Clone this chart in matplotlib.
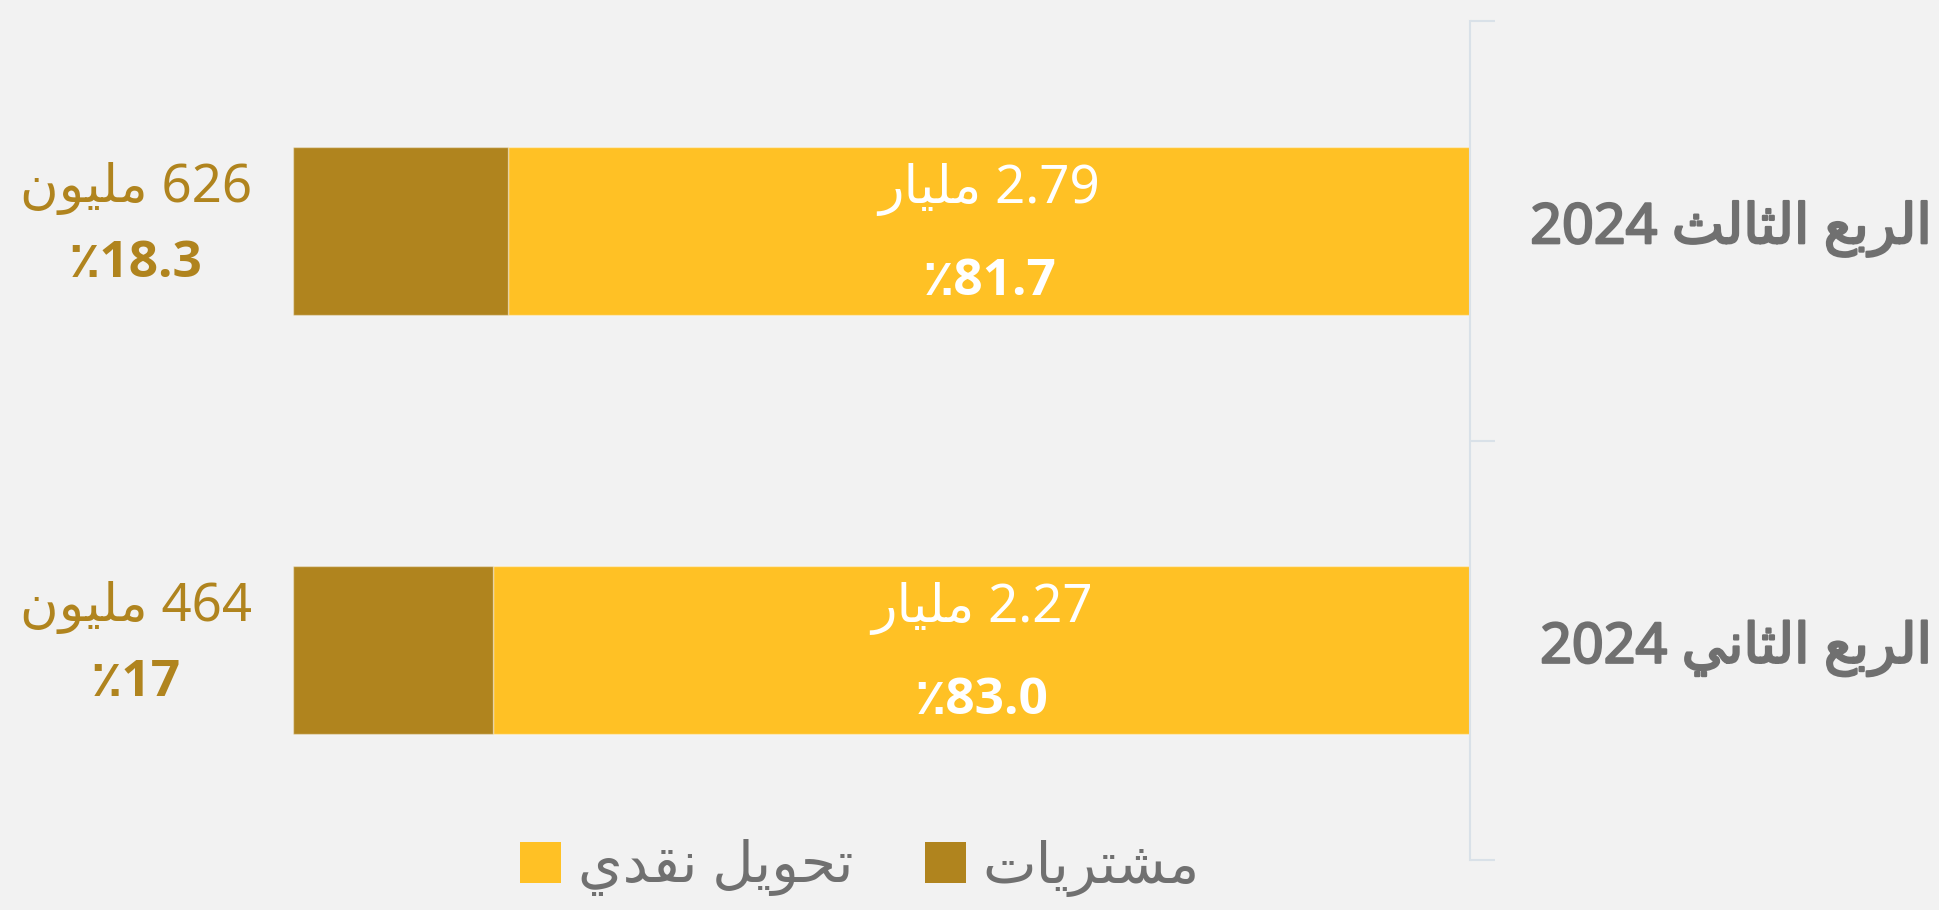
import matplotlib
matplotlib.use("Agg")
import matplotlib.pyplot as plt
import matplotlib.patheffects as pe
from matplotlib.patches import Patch

# data (bottom to top)
quarters = ['الربع الثاني 2024', 'الربع الثالث 2024']
cash_pct = [83.0, 81.7]
purch_pct = [17.0, 18.3]
cash_amt = ['2.27', '2.79']      # مليار
purch_amt = ['464', '626']       # مليون
cash_pct_lbl = ['83.0', '81.7']
purch_pct_lbl = ['17', '18.3']
series = ['تحويل نقدي', 'مشتريات']

YELLOW = '#FFC125'
BROWN = '#B0841E'
GREY = '#707070'
BG = '#F2F2F2'
AXC = '#D9E1E8'

# arabic presentation forms: isolated, final, initial, medial
FORMS = {
    'ا': ('\uFE8D', '\uFE8E', None, None),
    'ب': ('\uFE8F', '\uFE90', '\uFE91', '\uFE92'),
    'ت': ('\uFE95', '\uFE96', '\uFE97', '\uFE98'),
    'ث': ('\uFE99', '\uFE9A', '\uFE9B', '\uFE9C'),
    'ح': ('\uFEA1', '\uFEA2', '\uFEA3', '\uFEA4'),
    'د': ('\uFEA9', '\uFEAA', None, None),
    'ر': ('\uFEAD', '\uFEAE', None, None),
    'ش': ('\uFEB5', '\uFEB6', '\uFEB7', '\uFEB8'),
    'ع': ('\uFEC9', '\uFECA', '\uFECB', '\uFECC'),
    'ق': ('\uFED5', '\uFED6', '\uFED7', '\uFED8'),
    'ل': ('\uFEDD', '\uFEDE', '\uFEDF', '\uFEE0'),
    'م': ('\uFEE1', '\uFEE2', '\uFEE3', '\uFEE4'),
    'ن': ('\uFEE5', '\uFEE6', '\uFEE7', '\uFEE8'),
    'و': ('\uFEED', '\uFEEE', None, None),
    'ي': ('\uFEF1', '\uFEF2', '\uFEF3', '\uFEF4'),
}


def shape(word):
    out = []
    for i, ch in enumerate(word):
        if ch not in FORMS:
            out.append(ch)
            continue
        prev = word[i - 1] if i > 0 else None
        nxt = word[i + 1] if i + 1 < len(word) else None
        jp = prev in FORMS and FORMS[prev][2] is not None
        jn = nxt in FORMS and FORMS[ch][2] is not None
        iso, fin, ini, med = FORMS[ch]
        if jp and jn:
            out.append(med)
        elif jp:
            out.append(fin)
        elif jn:
            out.append(ini)
        else:
            out.append(iso)
    return ''.join(out)


def ar(s):
    toks = []
    for t in s.split(' '):
        if any(c in FORMS for c in t):
            toks.append(shape(t)[::-1])
        else:
            toks.append(t)
    return ' '.join(toks[::-1])


FAM = ['Noto Sans', 'DejaVu Sans']
BFAM = ['Open Sans', 'DejaVu Sans']
plt.rcParams['font.family'] = FAM

fig = plt.figure(figsize=(19.4, 9.1), dpi=100, facecolor=BG)
ax = fig.add_axes([293 / 1940, 50 / 910, (1470 - 293) / 1940, 839 / 910])
ax.set_facecolor(BG)

y = list(range(len(quarters)))
ax.barh(y, cash_pct, height=0.4, color=YELLOW, edgecolor=(1, 1, 1, 0.4), linewidth=1)
ax.barh(y, purch_pct, left=cash_pct, height=0.4, color=BROWN, edgecolor=(1, 1, 1, 0.4), linewidth=1)

ax.set_xlim(100, 0)
ax.set_ylim(-0.5, len(quarters) - 0.5)

for s in ['top', 'bottom', 'left']:
    ax.spines[s].set_visible(False)
ax.spines['right'].set_color(AXC)
ax.spines['right'].set_linewidth(1.5)
ax.set_xticks([])
ax.yaxis.tick_right()
ax.set_yticks([-0.5, 0.5, 1.5])
ax.set_yticklabels([])
ax.tick_params(axis='y', length=18, width=1.5, color=AXC, direction='out')

for i in y:
    # inside yellow segment
    ax.annotate(ar(cash_amt[i] + ' مليار'), xy=(cash_pct[i] / 2, i), xytext=(0, 20),
                textcoords='offset points', ha='center', va='baseline',
                fontsize=38, color='white', family=FAM)
    ax.annotate('\u066A' + cash_pct_lbl[i], xy=(cash_pct[i] / 2, i), xytext=(0, -46),
                textcoords='offset points', ha='center', va='baseline',
                fontsize=37, color='white', fontweight='bold', family=BFAM)
    # outside left
    ax.annotate(ar(purch_amt[i] + ' مليون'), xy=(136 / 1940, i), xycoords=('figure fraction', 'data'),
                xytext=(0, 21), textcoords='offset points', ha='center', va='baseline',
                fontsize=38, color=BROWN, family=FAM)
    ax.annotate('\u066A' + purch_pct_lbl[i], xy=(136 / 1940, i), xycoords=('figure fraction', 'data'),
                xytext=(0, -33), textcoords='offset points', ha='center', va='baseline',
                fontsize=37, color=BROWN, fontweight='bold', family=BFAM)
    # category label
    ax.annotate(ar(quarters[i]), xy=(1932 / 1940, i), xycoords=('figure fraction', 'data'),
                xytext=(0, -9), textcoords='offset points', ha='right', va='baseline',
                fontsize=40, color=GREY, family=FAM,
                path_effects=[pe.withStroke(linewidth=1.6, foreground=GREY)])

handles = [Patch(facecolor=YELLOW, edgecolor='none'), Patch(facecolor=BROWN, edgecolor='none')]
leg = fig.legend(handles, [ar(s) for s in series], ncol=2, loc='center',
                 bbox_to_anchor=(860 / 1940, 1 - 868 / 910), frameon=False,
                 handlelength=0.72, handleheight=0.72,
                 handletextpad=0.3, columnspacing=1.25, prop={'family': FAM, 'size': 41})
for t in leg.get_texts():
    t.set_color(GREY)

fig.savefig('out.png', dpi=100, facecolor=BG)
